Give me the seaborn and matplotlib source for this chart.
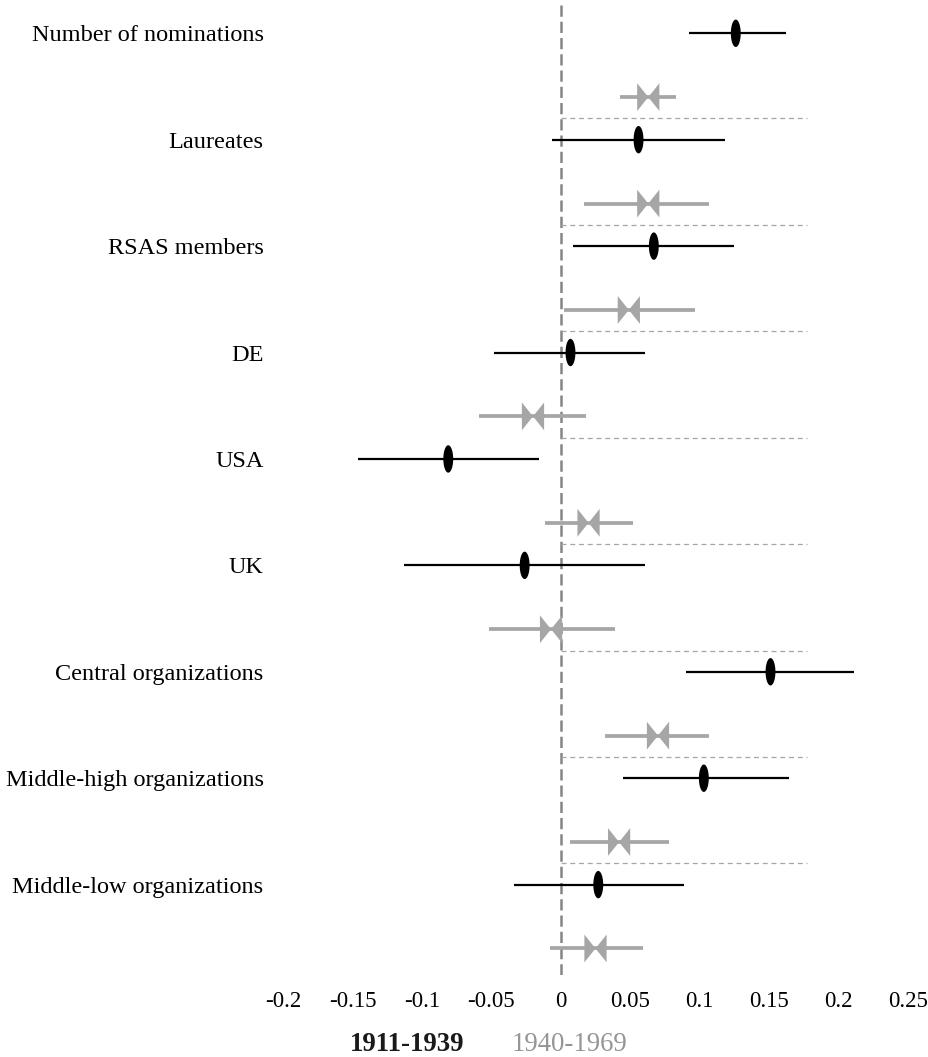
import numpy as np
import pandas as pd
import matplotlib
matplotlib.use("Agg")
import matplotlib.pyplot as plt
from matplotlib.path import Path
import seaborn as sns

categories = [
    "Number of nominations", "Laureates", "RSAS members", "DE", "USA", "UK",
    "Central organizations", "Middle-high organizations", "Middle-low organizations",
]

# 1911-1939 (black): estimate and interval ends
est_early = [0.126, 0.056, 0.067, 0.007, -0.081, -0.026, 0.151, 0.103, 0.027]
low_early = [0.092, -0.006, 0.009, -0.048, -0.146, -0.113, 0.090, 0.045, -0.034]
high_early = [0.162, 0.118, 0.125, 0.061, -0.016, 0.061, 0.211, 0.164, 0.089]

# 1940-1969 (grey)
est_late = [0.063, 0.063, 0.049, -0.020, 0.020, -0.007, 0.070, 0.042, 0.025]
low_late = [0.043, 0.017, 0.002, -0.059, -0.011, -0.052, 0.032, 0.007, -0.008]
high_late = [0.083, 0.107, 0.097, 0.018, 0.052, 0.039, 0.107, 0.078, 0.059]

xticks = [-0.2, -0.15, -0.1, -0.05, 0, 0.05, 0.1, 0.15, 0.2, 0.25]
xtick_labels = ["-0.2", "-0.15", "-0.1", "-0.05", "0", "0.05", "0.1", "0.15", "0.2", "0.25"]
legend_labels = ["1911-1939", "1940-1969"]

BLACK = "#000000"
GREY = "#a6a6a6"
LATE_OFFSET = 0.6
SEP_OFFSET = 0.8
SEP_END = 0.177

sns.set_style("white")
plt.rcParams["font.family"] = ["Liberation Serif", "DejaVu Serif"]

rows = np.arange(len(categories))
df_early = pd.DataFrame({"y": rows, "est": est_early, "lo": low_early, "hi": high_early})
df_late = pd.DataFrame({"y": rows + LATE_OFFSET, "est": est_late, "lo": low_late, "hi": high_late})

# marker shapes: tall ellipse and an inward-pointing bowtie
t = np.linspace(0, 2 * np.pi, 60)
ellipse = Path(np.column_stack([0.36 * np.cos(t), np.sin(t)]), closed=True)
bowtie = Path(
    [(-0.8, 1), (0, 0), (-0.8, -1), (-0.8, 1), (0.8, 1), (0, 0), (0.8, -1), (0.8, 1)],
    [Path.MOVETO, Path.LINETO, Path.LINETO, Path.CLOSEPOLY,
     Path.MOVETO, Path.LINETO, Path.LINETO, Path.CLOSEPOLY],
)

fig = plt.figure(figsize=(9.29, 10.57), dpi=100)
ax = fig.add_axes([0.3046, 0.078, 0.6728, 0.917])

ax.axvline(0, color="#858585", lw=1.8, ls=(0, (4.5, 2)), zorder=1)
ax.hlines(rows[:-1] + SEP_OFFSET, 0, SEP_END, color=GREY, lw=0.9, linestyles=(0, (4, 3)), zorder=1)

ax.hlines(df_late["y"], df_late["lo"], df_late["hi"], color=GREY, lw=2.7, zorder=2)
ax.hlines(df_early["y"], df_early["lo"], df_early["hi"], color=BLACK, lw=1.6, zorder=2)

sns.scatterplot(data=df_late, x="est", y="y", marker=bowtie, s=400, color=GREY,
                edgecolor="none", linewidth=0, legend=False, ax=ax, zorder=3)
sns.scatterplot(data=df_early, x="est", y="y", marker=ellipse, s=390, color=BLACK,
                edgecolor="none", linewidth=0, legend=False, ax=ax, zorder=3)

ax.set_xlim(-0.2, 0.25)
ax.set_ylim(8.845, -0.263)
ax.set_xticks(xticks)
ax.set_xticklabels(xtick_labels)
ax.set_yticks(rows)
ax.set_yticklabels(categories)
ax.tick_params(axis="x", length=0, pad=12, labelsize=16.5, colors="#000000")
ax.tick_params(axis="y", length=0, pad=14, labelsize=17.5, colors="#000000")
ax.set_xlabel("")
ax.set_ylabel("")
for side in ["top", "right", "bottom", "left"]:
    ax.spines[side].set_visible(False)

fig.text(0.438, 0.0114, legend_labels[0], ha="center", va="center",
         fontsize=19.3, fontweight="bold", color="#1a1a1a")
fig.text(0.6125, 0.0114, legend_labels[1], ha="center", va="center",
         fontsize=19.3, color="#959595")

fig.savefig("out.png", dpi=100)
